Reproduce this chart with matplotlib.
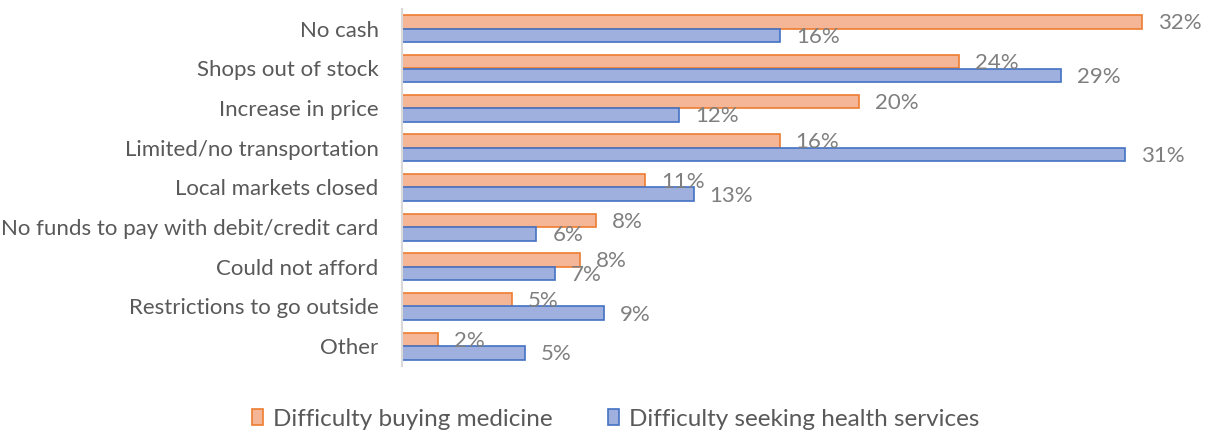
import matplotlib.pyplot as plt
import numpy as np

plt.rcParams['font.family'] = ['Lato', 'DejaVu Sans']

# data (share of respondents, %)
categories = ["No cash", "Shops out of stock", "Increase in price",
              "Limited/no transportation", "Local markets closed",
              "No funds to pay with debit/credit card", "Could not afford",
              "Restrictions to go outside", "Other"]
medicine = [32.07, 24.12, 19.79, 16.37, 10.55, 8.42, 7.73, 4.78, 1.59]
health = [16.39, 28.55, 12.01, 31.32, 12.65, 5.84, 6.65, 8.75, 5.36]
series_names = ["Difficulty buying medicine", "Difficulty seeking health services"]

fig = plt.figure(figsize=(12.07, 4.34), dpi=100)
ax = fig.add_axes([401.5 / 1207, 1 - 366 / 434, (1190 - 401.5) / 1207, (366 - 9) / 434])

y = np.arange(len(categories))
h = 0.34
b1 = ax.barh(y - h / 2, medicine, height=h, color='#F5B597', edgecolor='#ED7D31',
             linewidth=1.2, label=series_names[0])
b2 = ax.barh(y + h / 2, health, height=h, color='#9FB0DE', edgecolor='#4472C4',
             linewidth=1.2, label=series_names[1])

# value labels
for bars, vals in [(b1, medicine), (b2, health)]:
    for bar, v in zip(bars, vals):
        ax.annotate(f"{v:.0f}%", (v, bar.get_y() + bar.get_height() / 2),
                    xytext=(11.5, -1), textcoords='offset points',
                    va='center', ha='left', fontsize=16, color='#7F7F7F')

ax.set_xlim(0, (1190 - 401.5) / 23.1)
ax.set_ylim(len(categories) - 0.5, -0.5)
ax.set_yticks(y)
ax.set_yticklabels(categories, fontsize=16, color='#595959')
ax.tick_params(axis='y', length=0, pad=16.5)
ax.set_xticks([])
for s in ['top', 'right', 'bottom']:
    ax.spines[s].set_visible(False)
ax.spines['left'].set_color('#D9D9D9')
ax.spines['left'].set_linewidth(1.5)

leg = fig.legend(loc='center', bbox_to_anchor=(0.5 + 12 / 1207, 1 - 419 / 434), ncol=2,
                 frameon=False, fontsize=17.5, handlelength=0.45, handleheight=0.6,
                 handletextpad=0.4, columnspacing=2.3)
for t in leg.get_texts():
    t.set_color('#595959')

fig.savefig('out.png', dpi=100)
